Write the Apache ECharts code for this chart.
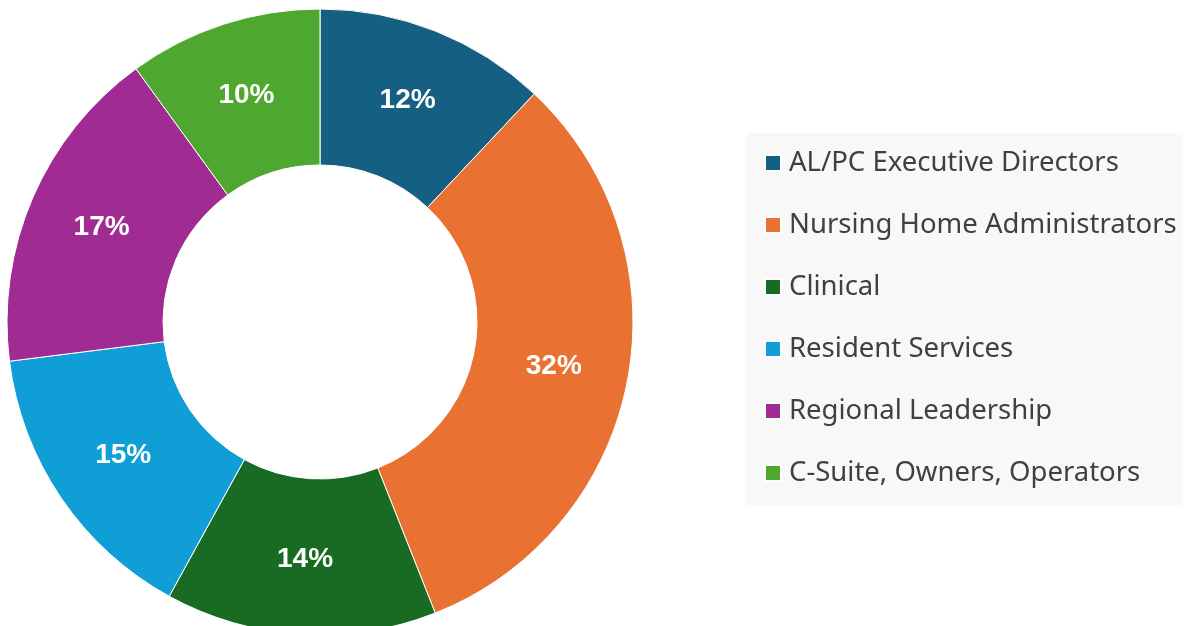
<!DOCTYPE html>
<html>
<head>
<meta charset="utf-8">
<script src="https://cdn.jsdelivr.net/npm/echarts@6/dist/echarts.min.js"></script>
<style>
  html, body { margin: 0; padding: 0; background: #fff; }
  #donut { width: 1185px; height: 626px; }
</style>
</head>
<body>
<div id="donut"></div>
<script>
const categories = [
  'AL/PC Executive Directors',
  'Nursing Home Administrators',
  'Clinical',
  'Resident Services',
  'Regional Leadership',
  'C-Suite, Owners, Operators'
]
const shares = [12, 32, 14, 15, 17, 10]
const colors = ['#156082', '#E97132', '#196B24', '#0F9ED5', '#A02B93', '#4EA72E']

const chart = echarts.init(document.getElementById('donut'))

chart.setOption({
  animation: false,
  color: colors,
  legend: {
    orient: 'vertical',
    left: 746,
    top: 133,
    padding: [16, 6, 18, 18],
    backgroundColor: '#f8f8f8',
    icon: 'rect',
    itemWidth: 16,
    itemHeight: 16,
    itemGap: 34,
    textStyle: {
      fontFamily: 'Noto Sans',
      fontSize: 27.5,
      lineHeight: 28,
      color: '#404040',
      padding: [0, 0, 0, 3]
    },
    data: categories
  },
  series: [{
    type: 'pie',
    center: [320, 322],
    radius: [157, 313],
    startAngle: 90,
    clockwise: true,
    itemStyle: {
      borderColor: '#ffffff',
      borderWidth: 1
    },
    label: {
      show: true,
      position: 'inside',
      formatter: '{c}%',
      color: '#ffffff',
      fontFamily: 'Liberation Sans',
      fontWeight: 'bold',
      fontSize: 28
    },
    labelLine: { show: false },
    emphasis: { disabled: true },
    data: categories.map((name, i) => ({ name, value: shares[i] }))
  }]
})
</script>
</body>
</html>
